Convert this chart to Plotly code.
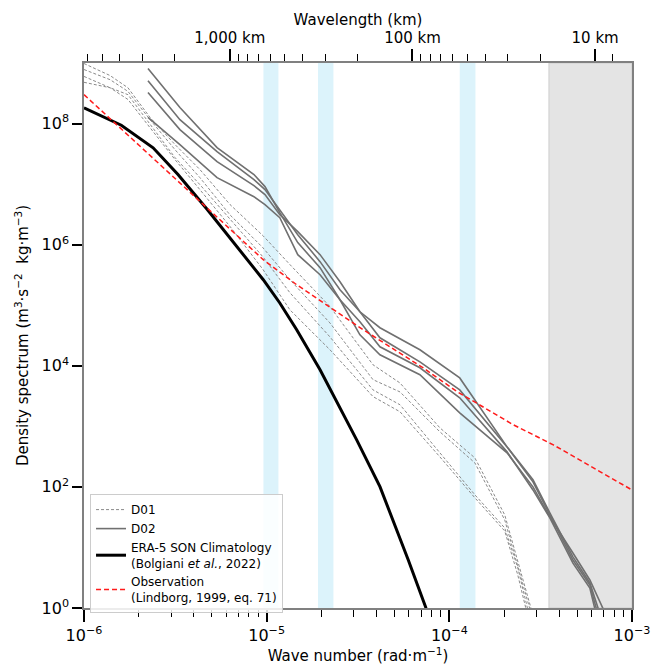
import numpy as np
import plotly.graph_objects as go

# ---------------- data ----------------
# D01 (outer domain) spectra, 4 cases, common wavenumber grid (rad/m)
K_D01 = [1.0e-6, 1.39e-6, 1.74e-6, 2.30e-6, 3.15e-6, 4.31e-6, 6.30e-6, 9.54e-6, 1.34e-5,
         2.22e-5, 3.82e-5, 5.37e-5, 8.88e-5, 1.38e-4, 2.01e-4, 2.37e-4, 3.13e-4]
D01_A = [9.8e8, 6.2e8, 3.9e8, 1.26e8, 4.5e7, 1.74e7, 4.6e6, 1.41e6, 4.7e5,
         9.5e4, 1.04e4, 5.2e3, 944, 301, 34.5, 6.2, 0.30]
D01_B = [7.8e8, 5.3e8, 3.4e8, 1.16e8, 3.7e7, 1.28e7, 3.1e6, 8.9e5, 2.64e5,
         5.1e4, 5.9e3, 3.7e3, 811, 249, 28.5, 5.1, 0.25]
D01_C = [6.0e8, 3.9e8, 3.0e8, 9.6e7, 2.74e7, 9.8e6, 2.6e6, 6.3e5, 1.61e5,
         3.0e4, 4.0e3, 2.27e3, 365, 74, 21, 4.6, 0.14]
D01_D = [4.8e8, 3.9e8, 2.5e8, 8.6e7, 2.54e7, 8.1e6, 2.0e6, 3.9e5, 8.4e4,
         1.84e4, 3.1e3, 1.74e3, 313, 66, 18.7, 3.5, 0.11]

# D02 (inner domain) spectra, 4 cases
K_D02 = [2.24e-6, 3.35e-6, 5.35e-6, 8.52e-6, 9.79e-6, 1.18e-5, 1.48e-5, 1.96e-5, 2.52e-5,
         3.24e-5, 4.17e-5, 6.90e-5, 1.14e-4, 2.07e-4, 2.87e-4, 3.55e-4, 4.75e-4, 5.88e-4, 7.76e-4]
D02_A = [8.1e8, 1.84e8, 4.0e7, 1.44e7, 9.1e6, 3.38e6, 1.08e6, 4.17e5, 1.23e5,
         3.25e4, 1.52e4, 7.1e3, 1.67e3, 365, 100, 31.9, 8.1, 2.9, 0.47]
D02_B = [5.1e8, 1.16e8, 3.44e7, 1.19e7, 8.1e6, 3.79e6, 1.46e6, 5.24e5, 1.80e5,
         7.8e4, 4.25e4, 1.84e4, 6.3e3, 458, 131, 37.2, 7.0, 2.59, 0.20]
D02_C = [3.25e8, 7.96e7, 2.35e7, 9.44e6, 6.7e6, 3.13e6, 1.64e6, 6.84e5, 2.44e5,
         7.8e4, 2.9e4, 1.16e4, 4.0e3, 458, 121, 34.5, 6.2, 2.4, 0.114]
D02_D = [1.26e8, 4.5e7, 1.28e7, 6.2e6, 4.58e6, 2.79e6, 6.84e5, 3.19e5, 1.23e5,
         5.34e4, 2.06e4, 9.27e3, 2.96e3, 379, 89, 30.7, 5.5, 2.14, 0.065]

# ERA-5 SON climatology
K_ERA = [1.0e-6, 1.6e-6, 2.39e-6, 3.27e-6, 4.73e-6, 6.3e-6, 9.58e-6, 1.18e-5, 1.46e-5,
         1.96e-5, 3.11e-5, 4.17e-5, 5.96e-5, 7.45e-5, 8.5e-5]
E_ERA = [1.82e8, 9.4e7, 3.97e7, 1.44e7, 3.8e6, 1.29e6, 2.64e5, 1.09e5, 3.93e4,
         8.6e3, 598, 101, 6.2, 1.0, 0.4]

# Observation (Lindborg 1999)
K_OBS = [1.0e-6, 6.3e-6, 9.58e-6, 1.46e-5, 2.22e-5, 3.38e-5, 7.2e-5, 1.1e-4, 2.24e-4,
         3.71e-4, 6.67e-4, 1.0e-3]
E_OBS = [3.0e8, 1.77e6, 5.65e5, 2.18e5, 9.3e4, 3.93e4, 9.2e3, 3.76e3, 1.06e3,
         494, 179, 89]

# highlighted wavenumber bands
BANDS_BLUE = [(9.6e-6, 1.16e-5), (1.91e-5, 2.32e-5), (1.14e-4, 1.39e-4)]
BAND_GREY = (3.51e-4, 1.0e-3)

# axis ticks
K_TICKS = [1e-6, 1e-5, 1e-4, 1e-3]
K_TICKTEXT = ["10<sup>\u22126</sup>", "10<sup>\u22125</sup>", "10<sup>\u22124</sup>", "10<sup>\u22123</sup>"]
E_TICKS = [1e0, 1e2, 1e4, 1e6, 1e8]
E_TICKTEXT = ["10<sup>0</sup>", "10<sup>2</sup>", "10<sup>4</sup>", "10<sup>6</sup>", "10<sup>8</sup>"]
WL_MAJOR_KM = [1000, 100, 10]
WL_MAJOR_TEXT = ["1,000 km", "100 km", "10 km"]
WL_MINOR_KM = [6000, 5000, 4000, 3000, 2000,
               900, 800, 700, 600, 500, 400, 300, 200,
               90, 80, 70, 60, 50, 40, 30, 20, 8]

# ---------------- figure ----------------
FONT = "DejaVu Sans"
fig = go.Figure()

for lo, hi in BANDS_BLUE:
    fig.add_shape(type="rect", xref="x", yref="paper", x0=lo, x1=hi, y0=0, y1=1,
                  fillcolor="#dcf3fb", line_width=0, layer="below")
fig.add_shape(type="rect", xref="x", yref="paper", x0=BAND_GREY[0], x1=BAND_GREY[1], y0=0, y1=1,
              fillcolor="#e4e4e4", line=dict(color="#cdcdcd", width=1), layer="below")

for i, e in enumerate([D01_A, D01_B, D01_C, D01_D]):
    fig.add_trace(go.Scatter(x=K_D01, y=e, mode="lines", name="D01", legendgroup="D01",
                             showlegend=(i == 0),
                             line=dict(color="#8a8a8a", width=1, dash="3px,2px")))
for i, e in enumerate([D02_A, D02_B, D02_C, D02_D]):
    fig.add_trace(go.Scatter(x=K_D02, y=e, mode="lines", name="D02", legendgroup="D02",
                             showlegend=(i == 0),
                             line=dict(color="#707070", width=1.6)))
fig.add_trace(go.Scatter(x=K_ERA, y=E_ERA, mode="lines",
                         name="ERA-5 SON Climatology<br>(Bolgiani <i>et al.</i>, 2022)",
                         line=dict(color="black", width=3)))
# drawn against the top (wavelength) axis, which shares the same wavenumber range
fig.add_trace(go.Scatter(x=K_OBS, y=E_OBS, mode="lines", xaxis="x2",
                         name="Observation<br>(Lindborg, 1999, eq. 71)",
                         line=dict(color="#ff1a1a", width=1.5, dash="5px,3px")))

k_minor = [m * 10.0 ** p for p in (-6, -5, -4) for m in range(2, 10)]
k_wl_major = [2 * np.pi / (w * 1e3) for w in WL_MAJOR_KM]
k_wl_minor = [2 * np.pi / (w * 1e3) for w in WL_MINOR_KM]

axis_common = dict(type="log", showgrid=False, zeroline=False, showline=True, automargin=False,
                   linecolor="#808080", linewidth=1.5, ticks="outside", tickcolor="black",
                   tickwidth=1.5, tickfont=dict(size=16, color="black", family=FONT))

fig.update_layout(
    width=653, height=665,
    margin=dict(l=84, r=21, t=63, b=57),
    paper_bgcolor="white", plot_bgcolor="white",
    font=dict(family=FONT, color="black"),
    xaxis=dict(axis_common, range=[-6, -3], tickmode="array", tickvals=K_TICKS,
               ticktext=K_TICKTEXT, ticklen=12,
               minor=dict(tickmode="array", tickvals=k_minor, ticks="outside", ticklen=7,
                          tickwidth=1.3, tickcolor="black", showgrid=False),
               title=dict(text="Wave number (rad\u00b7m<sup>\u22121</sup>)",
                          font=dict(size=15), standoff=0)),
    xaxis2=dict(axis_common, overlaying="x", side="top", anchor="y", range=[-6, -3],
                tickmode="array", tickvals=k_wl_major, ticktext=WL_MAJOR_TEXT, ticklen=12,
                tickfont=dict(size=15, color="black", family=FONT),
                minor=dict(tickmode="array", tickvals=k_wl_minor, ticks="outside", ticklen=7,
                           tickwidth=1.3, tickcolor="black", showgrid=False),
                title=dict(text="Wavelength (km)", font=dict(size=15), standoff=0)),
    yaxis=dict(axis_common, range=[0, 9], tickmode="array", tickvals=E_TICKS,
               ticktext=E_TICKTEXT, ticklen=10, mirror=True,
               title=dict(text="Density spectrum (m<sup>3</sup>\u00b7s<sup>\u22122</sup>  kg\u00b7m<sup>\u22123</sup>)",
                          font=dict(size=15), standoff=9)),
    legend=dict(x=0.011, y=0.209, xanchor="left", yanchor="top",
                bgcolor="rgba(255,255,255,0.85)", bordercolor="#cccccc", borderwidth=1,
                font=dict(size=12, family=FONT), tracegroupgap=0),
)

# remove the page's default 8px body margin so the figure fills the window exactly
fig.write_html("out.html", config={"displayModeBar": False},
               post_script="document.body.style.margin='0';")
